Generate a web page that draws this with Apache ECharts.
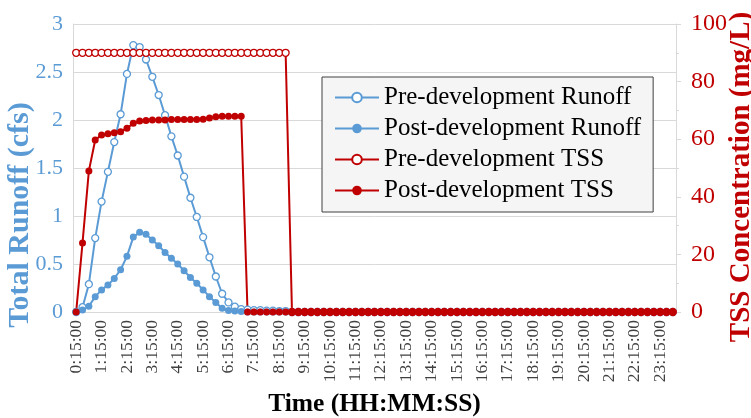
<!DOCTYPE html>
<html>
<head>
<meta charset="utf-8">
<script src="https://cdn.jsdelivr.net/npm/echarts@6/dist/echarts.min.js"></script>
<style>
  html, body { margin: 0; padding: 0; background: #fff; }
  #chart { width: 751px; height: 418px; }
</style>
</head>
<body>
<div id="chart"></div>
<script>
// 15-minute time steps
const times = [
  '0:15:00','0:30:00','0:45:00','1:00:00','1:15:00','1:30:00','1:45:00','2:00:00',
  '2:15:00','2:30:00','2:45:00','3:00:00','3:15:00','3:30:00','3:45:00','4:00:00',
  '4:15:00','4:30:00','4:45:00','5:00:00','5:15:00','5:30:00','5:45:00','6:00:00',
  '6:15:00','6:30:00','6:45:00','7:00:00','7:15:00','7:30:00','7:45:00','8:00:00',
  '8:15:00','8:30:00','8:45:00','9:00:00','9:15:00','9:30:00','9:45:00','10:00:00',
  '10:15:00','10:30:00','10:45:00','11:00:00','11:15:00','11:30:00','11:45:00','12:00:00',
  '12:15:00','12:30:00','12:45:00','13:00:00','13:15:00','13:30:00','13:45:00','14:00:00',
  '14:15:00','14:30:00','14:45:00','15:00:00','15:15:00','15:30:00','15:45:00','16:00:00',
  '16:15:00','16:30:00','16:45:00','17:00:00','17:15:00','17:30:00','17:45:00','18:00:00',
  '18:15:00','18:30:00','18:45:00','19:00:00','19:15:00','19:30:00','19:45:00','20:00:00',
  '20:15:00','20:30:00','20:45:00','21:00:00','21:15:00','21:30:00','21:45:00','22:00:00',
  '22:15:00','22:30:00','22:45:00','23:00:00','23:15:00','23:30:00','23:45:00'
];

// Runoff (cfs)
const preRunoff = [
  0, 0.05, 0.29, 0.77, 1.15, 1.46, 1.77, 2.06, 2.48, 2.78, 2.76, 2.63, 2.45, 2.26, 2.05, 1.83,
  1.63, 1.41, 1.19, 0.99, 0.78, 0.57, 0.37, 0.19, 0.10, 0.055, 0.03, 0.025, 0.02, 0.02, 0.015, 0.015,
  0.01, 0.01, 0, 0, 0, 0, 0, 0, 0, 0, 0, 0, 0, 0, 0, 0,
  0, 0, 0, 0, 0, 0, 0, 0, 0, 0, 0, 0, 0, 0, 0, 0,
  0, 0, 0, 0, 0, 0, 0, 0, 0, 0, 0, 0, 0, 0, 0, 0,
  0, 0, 0, 0, 0, 0, 0, 0, 0, 0, 0, 0, 0, 0, 0
];
const postRunoff = [
  0, 0.02, 0.06, 0.16, 0.23, 0.28, 0.35, 0.44, 0.58, 0.78, 0.83, 0.81, 0.75, 0.69, 0.62, 0.56,
  0.50, 0.43, 0.36, 0.30, 0.23, 0.16, 0.10, 0.04, 0.015, 0.01, 0.005, 0, 0, 0, 0, 0,
  0, 0, 0, 0, 0, 0, 0, 0, 0, 0, 0, 0, 0, 0, 0, 0,
  0, 0, 0, 0, 0, 0, 0, 0, 0, 0, 0, 0, 0, 0, 0, 0,
  0, 0, 0, 0, 0, 0, 0, 0, 0, 0, 0, 0, 0, 0, 0, 0,
  0, 0, 0, 0, 0, 0, 0, 0, 0, 0, 0, 0, 0, 0, 0
];

// TSS concentration (mg/L)
const preTSS = [
  90, 90, 90, 90, 90, 90, 90, 90, 90, 90, 90, 90, 90, 90, 90, 90,
  90, 90, 90, 90, 90, 90, 90, 90, 90, 90, 90, 90, 90, 90, 90, 90,
  90, 90, 0, 0, 0, 0, 0, 0, 0, 0, 0, 0, 0, 0, 0, 0,
  0, 0, 0, 0, 0, 0, 0, 0, 0, 0, 0, 0, 0, 0, 0, 0,
  0, 0, 0, 0, 0, 0, 0, 0, 0, 0, 0, 0, 0, 0, 0, 0,
  0, 0, 0, 0, 0, 0, 0, 0, 0, 0, 0, 0, 0, 0, 0
];
const postTSS = [
  0, 24, 49, 59.7, 61.5, 61.9, 62.2, 62.6, 63.8, 65.5, 66.3, 66.5, 66.7, 66.7, 66.7, 66.8,
  66.8, 66.8, 66.8, 66.8, 66.9, 67.4, 67.8, 68, 68, 68, 68, 0, 0, 0, 0, 0,
  0, 0, 0, 0, 0, 0, 0, 0, 0, 0, 0, 0, 0, 0, 0, 0,
  0, 0, 0, 0, 0, 0, 0, 0, 0, 0, 0, 0, 0, 0, 0, 0,
  0, 0, 0, 0, 0, 0, 0, 0, 0, 0, 0, 0, 0, 0, 0, 0,
  0, 0, 0, 0, 0, 0, 0, 0, 0, 0, 0, 0, 0, 0, 0
];

const seriesNames = [
  'Pre-development Runoff',
  'Post-development Runoff',
  'Pre-development TSS',
  'Post-development TSS'
];

const BLUE = '#5B9BD5';
const RED = '#C00000';
const FONT = '"Liberation Serif", "DejaVu Serif", serif';
const GRID_GRAY = '#D9D9D9';

function lineSeries(name, data, color, hollow, yAxisIndex) {
  return {
    name: name,
    type: 'line',
    yAxisIndex: yAxisIndex,
    data: data,
    symbol: 'circle',
    symbolSize: 7,
    showAllSymbol: true,
    animation: false,
    lineStyle: { color: color, width: 2 },
    itemStyle: {
      color: hollow ? '#ffffff' : color,
      borderColor: color,
      borderWidth: hollow ? 1.3 : 0
    }
  };
}

const chart = echarts.init(document.getElementById('chart'), null, { renderer: 'canvas' });

chart.setOption({
  animation: false,
  textStyle: { fontFamily: FONT },
  grid: {
    left: 73, right: 75, top: 24, bottom: 106,
    containLabel: false,
    outerBoundsMode: 'none'
  },
  legend: {
    orient: 'vertical',
    left: 322,
    top: 77,
    padding: [8, 12, 9, 12],
    itemGap: 6,
    itemWidth: 44,
    itemHeight: 12,
    backgroundColor: '#F5F5F5',
    borderColor: '#404040',
    borderWidth: 1,
    borderRadius: 0,
    textStyle: { fontFamily: FONT, fontSize: 25, color: '#000' },
    data: seriesNames
  },
  xAxis: {
    type: 'category',
    data: times,
    boundaryGap: true,
    name: 'Time (HH:MM:SS)',
    nameLocation: 'middle',
    nameGap: 79,
    nameMoveOverlap: false,
    nameTextStyle: { fontFamily: FONT, fontSize: 25.5, fontWeight: 'bold', color: '#000' },
    axisLine: { lineStyle: { color: GRID_GRAY, width: 1 } },
    axisTick: { show: false },
    axisLabel: {
      interval: 3,
      rotate: 90,
      fontFamily: FONT,
      fontSize: 17.5,
      color: '#404040',
      margin: 8
    },
    splitLine: { show: false }
  },
  yAxis: [
    {
      type: 'value',
      min: 0,
      max: 3,
      interval: 0.5,
      position: 'left',
      name: 'Total Runoff (cfs)',
      nameLocation: 'middle',
      nameGap: 38,
      nameMoveOverlap: false,
      nameTextStyle: {
        fontFamily: FONT, fontSize: 30, fontWeight: 'bold', color: BLUE,
        padding: [0, 94, 0, 0]
      },
      axisLine: { show: true, lineStyle: { color: GRID_GRAY, width: 1 } },
      axisTick: { show: false },
      axisLabel: { fontFamily: FONT, fontSize: 22, color: BLUE, margin: 10 },
      splitLine: { show: true, lineStyle: { color: GRID_GRAY, width: 1 } }
    },
    {
      type: 'value',
      min: 0,
      max: 100,
      interval: 20,
      position: 'right',
      name: 'TSS Concentration (mg/L)',
      nameLocation: 'middle',
      nameGap: 51,
      nameRotate: 90,
      nameMoveOverlap: false,
      nameTextStyle: {
        fontFamily: FONT, fontSize: 29, fontWeight: 'bold', color: RED,
        padding: [0, 18, 0, 0]
      },
      axisLine: { show: true, lineStyle: { color: GRID_GRAY, width: 1 } },
      axisTick: { show: true, inside: false, length: 5, lineStyle: { color: GRID_GRAY } },
      minorTick: { show: true, splitNumber: 2, length: 3, lineStyle: { color: GRID_GRAY } },
      axisLabel: { fontFamily: FONT, fontSize: 24, color: RED, margin: 15 },
      splitLine: { show: false }
    }
  ],
  series: [
    lineSeries(seriesNames[0], preRunoff, BLUE, true, 0),
    lineSeries(seriesNames[1], postRunoff, BLUE, false, 0),
    lineSeries(seriesNames[2], preTSS, RED, true, 1),
    lineSeries(seriesNames[3], postTSS, RED, false, 1)
  ]
});
</script>
</body>
</html>
